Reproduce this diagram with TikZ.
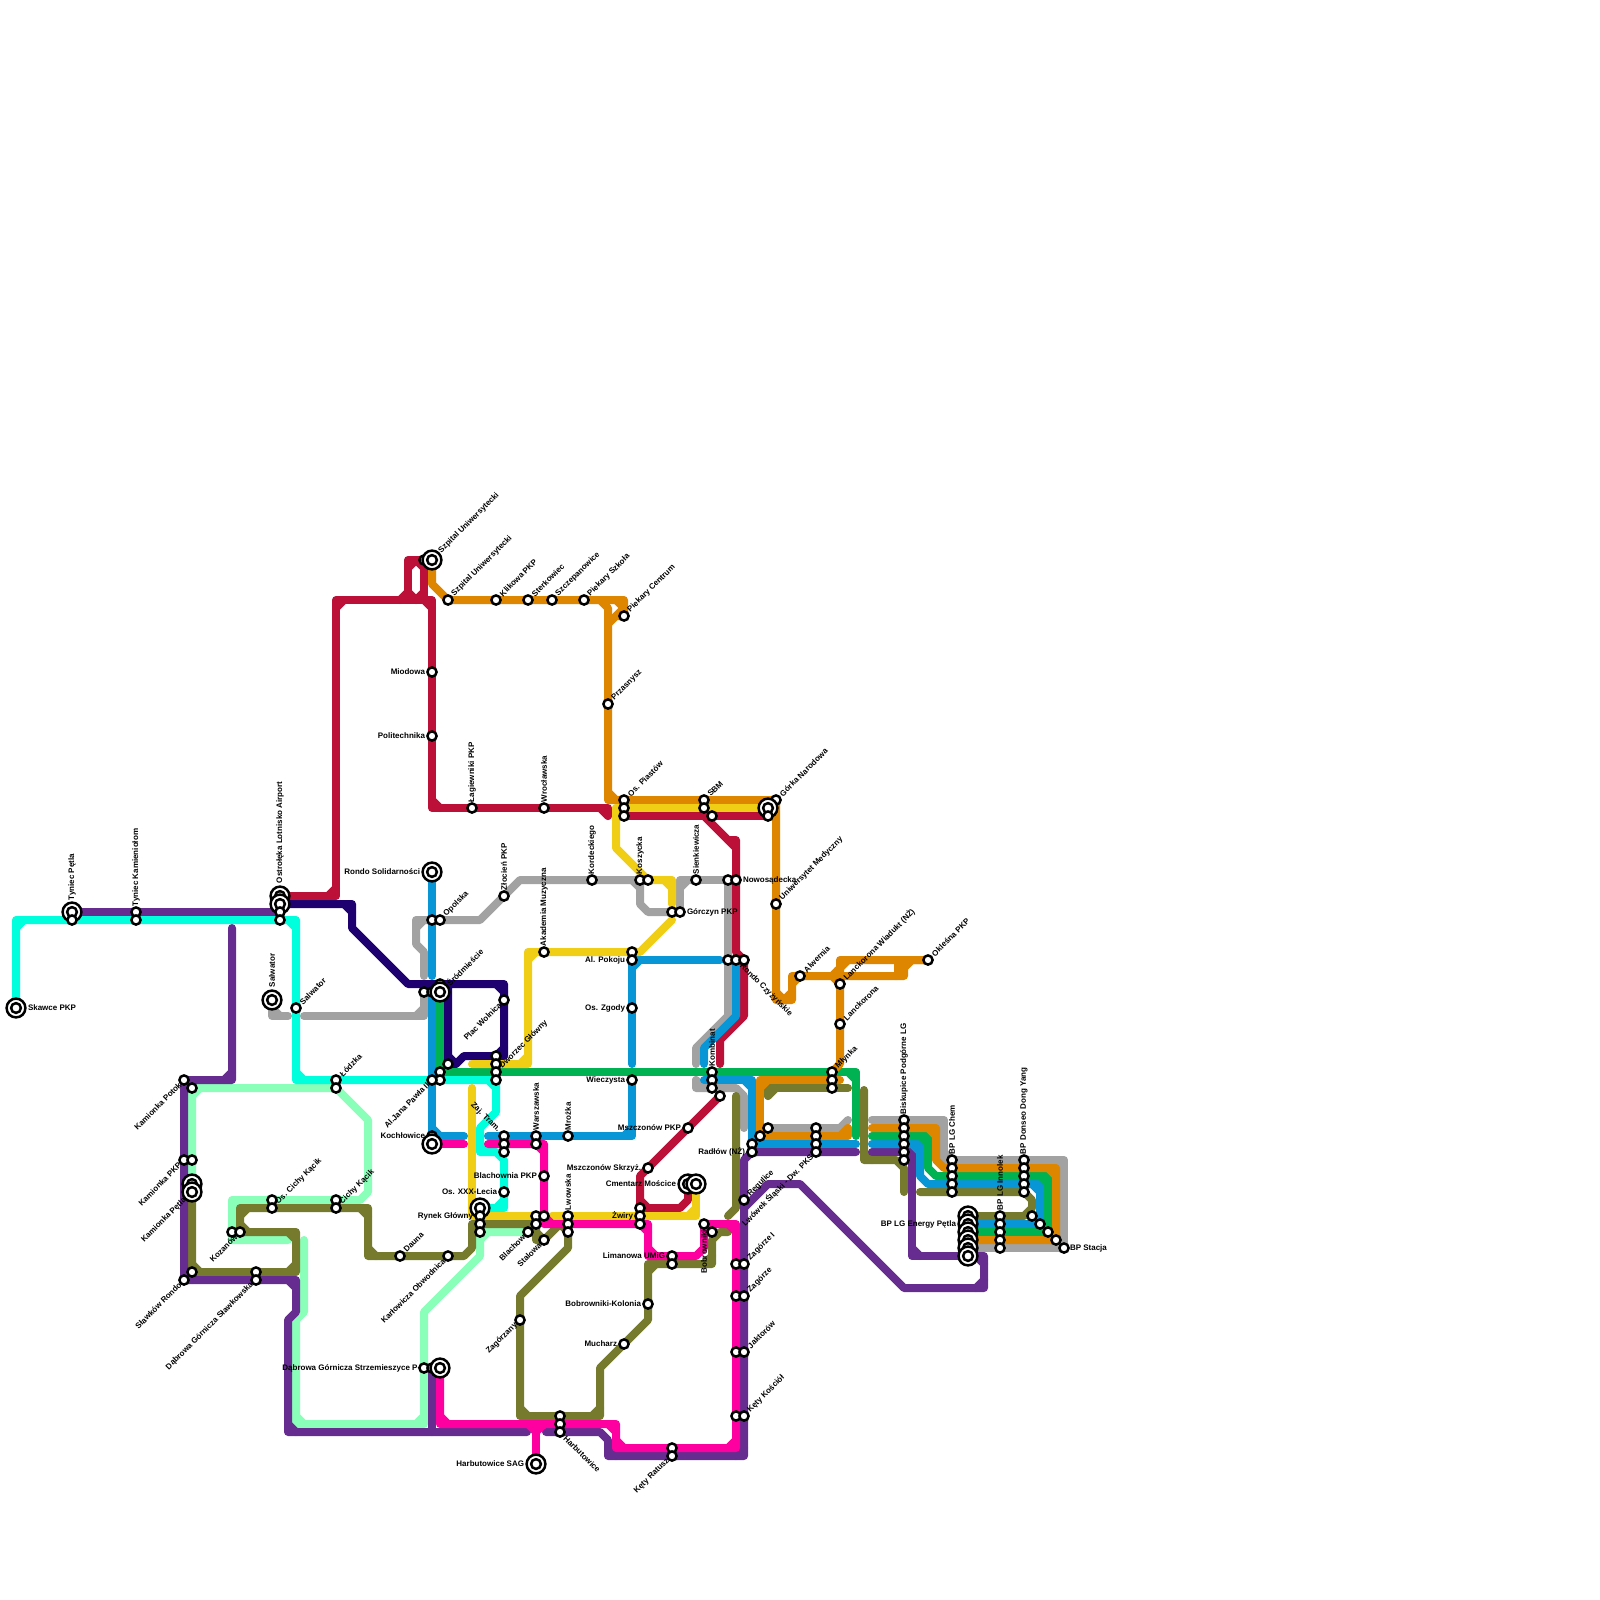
\documentclass[tikz,border=0pt]{standalone}
\usepackage{fontspec}
\setmainfont{Liberation Sans}
\definecolor{cCyan}{HTML}{00FFDD}
\definecolor{cPurple}{HTML}{662C90}
\definecolor{cCrimson}{HTML}{BD1038}
\definecolor{cNavy}{HTML}{1E0070}
\definecolor{cOrange}{HTML}{DF8600}
\definecolor{cYellow}{HTML}{F0CE15}
\definecolor{cBlue}{HTML}{0896D7}
\definecolor{cGreen}{HTML}{00B251}
\definecolor{cOlive}{HTML}{757A2C}
\definecolor{cPink}{HTML}{FF00A0}
\definecolor{cSilver}{HTML}{A2A2A2}
\definecolor{cMint}{HTML}{8AFFB9}
\tikzset{
 mln/.style={line width=4pt,line cap=round,line join=round},
 lb/.style={font=\bfseries\fontsize{4pt}{4.4pt}\selectfont,text=black,inner sep=0pt,outer sep=0pt},
 stn/.style={circle,draw=black,fill=white,line width=1.25pt,inner sep=0pt,minimum size=4.6pt},
 tgo/.style={circle,draw=black,fill=white,line width=1.25pt,inner sep=0pt,minimum size=9.4pt},
 tgi/.style={circle,draw=black,fill=white,line width=1.25pt,inner sep=0pt,minimum size=4.9pt},
}
\newcounter{lc}\newcounter{sc}
% a line through grid points; square bends get the chamfered inner corner
\newcommand{\metro}[2]{%
 \global\let\mypth\empty
 \foreach \cx/\cy [count=\ci] in {#2}{%
  \ifnum\ci=1 \xdef\mypth{(\cx,\cy)}\else\xdef\mypth{\mypth -- (\cx,\cy)}\fi}%
 \draw[mln,draw=#1] \mypth;
 \foreach \cx/\cy [count=\ci] in {#2}{%
  \ifnum\ci>2
   \pgfmathsetmacro\lab{veclen(\ax-\bx,\ay-\by)}%
   \pgfmathsetmacro\lcb{veclen(\cx-\bx,\cy-\by)}%
   \pgfmathsetmacro\dotp{((\ax-\bx)/\lab)*((\cx-\bx)/\lcb)+((\ay-\by)/\lab)*((\cy-\by)/\lcb)}%
   \pgfmathparse{\dotp>-0.1?1:0}%
   \ifnum\pgfmathresult=1
    \pgfmathsetmacro\da{min(8,\lab)/\lab}%
    \pgfmathsetmacro\db{min(8,\lcb)/\lcb}%
    \draw[mln,draw=#1] ({\bx+\da*(\ax-\bx)},{\by+\da*(\ay-\by)}) -- ({\bx+\db*(\cx-\bx)},{\by+\db*(\cy-\by)});
   \fi
  \fi
  \ifnum\ci>1 \xdef\ax{\bx}\xdef\ay{\by}\fi
  \xdef\bx{\cx}\xdef\by{\cy}}%
}
\newcommand{\stations}[1]{\foreach \sx/\sy in {#1}{\stepcounter{sc}\node[stn] (s\arabic{sc}) at (\sx,\sy) {};}}
\newcommand{\tg}[2]{\stepcounter{sc}\node[tgo] (s\arabic{sc}) at (#1,#2) {};\node[tgi] (t\arabic{sc}) at (#1,#2) {};}
\newcommand{\lbnode}[5]{\stepcounter{lc}\node[lb,rotate=#1,anchor=#2] (l\arabic{lc}) at (#3,#4) {#5};}
\newcommand{\lR}[4][7]{\lbnode{0}{west}{{#2+#1}}{#3}{#4}}
\newcommand{\lL}[4][7]{\lbnode{0}{east}{{#2-#1}}{#3}{#4}}
\newcommand{\lU}[4][6]{\lbnode{90}{west}{#2}{{#3-#1}}{#4}}
\newcommand{\lD}[4][6]{\lbnode{90}{east}{#2}{{#3+#1}}{#4}}
\newcommand{\lNE}[4][5]{\lbnode{45}{west}{{#2+#1}}{{#3-#1}}{#4}}
\newcommand{\lSW}[4][4]{\lbnode{45}{east}{{#2-#1}}{{#3+#1}}{#4}}
\newcommand{\lSE}[4][5]{\lbnode{-45}{west}{{#2+#1}}{{#3+#1}}{#4}}
\newcommand{\lNW}[4][5]{\lbnode{-45}{east}{{#2-#1}}{{#3-#1}}{#4}}
\begin{document}
\begin{tikzpicture}[x=0.5pt,y=-0.5pt]
\useasboundingbox (0,0) rectangle (1600,1600);
\fill[white] (0,0) rectangle (1600,1600);
% silver
\metro{cSilver}{272/1000,272/1016,288/1016}
\metro{cSilver}{304/1016,424/1016,424/992}
\metro{cSilver}{424/976,424/952,416/944,416/920,480/920,520/880,640/880,640/904,648/912,672/912}
\metro{cSilver}{728/880,680/880,680/912}
\metro{cSilver}{728/880,728/1016,696/1048,696/1064}
\metro{cSilver}{696/1080,696/1088,736/1088,744/1096,744/1128}
\metro{cSilver}{768/1128,840/1128,848/1120}
\metro{cSilver}{872/1120,944/1120,944/1160,1064/1160,1064/1248,968/1248}
% crimson
\metro{cCrimson}{280/896,336/896,336/600,408/600,408/560,424/560,424/600,408/600,408/590}
\metro{cCrimson}{416/600,432/600,432/808,608/808,608/816}
\metro{cCrimson}{624/816,768/816}
\metro{cCrimson}{704/816,728/840,736/840,736/952,744/960,744/1016,720/1040,720/1064}
\metro{cCrimson}{720/1096,640/1176,640/1208,680/1208,688/1200,688/1184}
% mint
\metro{cMint}{192/1184,192/1088,336/1088,368/1120,368/1192,360/1200,232/1200,232/1240,288/1240}
\metro{cMint}{304/1240,304/1312,296/1320,296/1424,424/1424,424/1312,480/1256,480/1232,528/1232}
% olive
\metro{cOlive}{192/1192,192/1272,296/1272,296/1232,240/1232,240/1208,368/1208,368/1256,464/1256,472/1248,472/1224,536/1224,536/1240,544/1240,560/1224,568/1224,568/1248,520/1296,520/1416,600/1416,600/1368,648/1320,648/1264,712/1264,712/1240,720/1232,728/1232}
\metro{cOlive}{736/1096,736/1208,728/1216}
\metro{cOlive}{848/1088,768/1088,768/1096}
\metro{cOlive}{864/1090,864/1160,896/1160,904/1168,904/1192}
\metro{cOlive}{920/1192,1024/1192,1032/1200,1032/1208,1024/1216,968/1216}
% purple
\metro{cPurple}{72/912,280/912}
\metro{cPurple}{232/928,232/1080,184/1080,184/1280,296/1280,296/1312,288/1320,288/1432,527/1432}
\metro{cPurple}{432/1368,432/1432}
\metro{cPurple}{546/1432,600/1432,608/1440,608/1456,744/1456,744/1160,752/1152,856/1152}
\metro{cPurple}{744/1208,768/1184,800/1184,904/1288,984/1288,984/1256,968/1256}
\metro{cPurple}{872/1152,912/1152,912/1256,968/1256}
% navy
\metro{cNavy}{280/904,352/904,352/928,408/984,504/984,504/1056,464/1056,456/1064,448/1064,448/984}
% cyan
\metro{cCyan}{16/1008,16/920,296/920,296/1080,496/1080,496/1112,480/1128,480/1152,496/1152,504/1160,504/1208,480/1208}
% blue
\metro{cBlue}{432/872,432/976}
\metro{cBlue}{432/992,432/1136,464/1136}
\metro{cBlue}{488/1136,632/1136,632/1080}
\metro{cBlue}{720/960,632/960,632/1064}
\metro{cBlue}{736/960,736/1016,704/1048,704/1064}
\metro{cBlue}{704/1080,752/1080,752/1144,856/1144}
\metro{cBlue}{872/1144,920/1144,920/1176,928/1184,1040/1184,1040/1224,968/1224}
% green
\metro{cGreen}{440/992,440/1072,856/1072,856/1136}
\metro{cGreen}{872/1136,928/1136,928/1168,936/1176,1048/1176,1048/1232,968/1232}
% orange
\metro{cOrange}{432/560,432/584,448/600,624/600,624/616,616/616,608/624,608/800,776/800,776/1000,792/1000,792/976,904/976,904/968,912/960,928/960}
\metro{cOrange}{600/600,608/608,608/624}
\metro{cOrange}{928/960,840/960,840/1064,832/1072}
\metro{cOrange}{848/960,832/976,840/984}
\metro{cOrange}{896/960,904/968,896/976}
\metro{cOrange}{840/1080,760/1080,760/1136,848/1136,848/1128}
\metro{cOrange}{872/1128,936/1128,936/1160,944/1168,1056/1168,1056/1240,968/1240}
% yellow
\metro{cYellow}{616/808,768/808}
\metro{cYellow}{616/808,616/848,648/880,672/880,672/904}
\metro{cYellow}{672/920,640/952,528/952,528/1064,472/1064}
\metro{cYellow}{472/1088,472/1216,536/1216}
\metro{cYellow}{552/1216,696/1216,696/1184}
% pink
\metro{cPink}{440/1144,464/1144}
\metro{cPink}{440/1368,440/1424,616/1424,616/1448,736/1448,736/1224,704/1224,704/1248,696/1256,648/1256,648/1224,544/1224,544/1144,488/1144}
\metro{cPink}{536/1464,536/1424}
\metro{cPink}{528/1424,536/1432,544/1424}
% labels
\lR[12]{16}{1008}{Skawce PKP}
\lU[12]{72}{912}{Tyniec Pętla}
\lU{136}{912}{Tyniec Kamieniołom}
\lU[13]{280}{896}{Ostrołęka Lotnisko Airport}
\lU[13]{272}{1000}{Salwator}
\lNE{296}{1008}{Salwator}
\lNE{336}{1080}{Łódzka}
\lSW{184}{1080}{Kamionka Potok}
\lSW{184}{1160}{Kamionka PKP}
\lSW[7]{192}{1192}{Kamionka Pętla}
\lSW{184}{1280}{Sławków Rondo}
\lSW{256}{1280}{Dąbrowa Górnicza Sławkowska}
\lSW{240}{1232}{Kozanów}
\lNE{272}{1208}{Os. Cichy Kącik}
\lNE{336}{1208}{Cichy Kącik}
\lNE{400}{1256}{Dauna}
\lSW{448}{1256}{Karłowicza Obwodnica}
\lL[12]{440}{1368}{Dąbrowa Górnicza Strzemieszyce P+R}
\lL[12]{432}{872}{Rondo Solidarności}
\lNE{440}{920}{Opolska}
\lNE[8]{440}{992}{Śródmieście}
\lSW{504}{1000}{Plac Wolnica}
\lNE{496}{1072}{Dworzec Główny}
\lSW{432}{1080}{Al.Jana Pawła II}
\lL{432}{1136}{Kochłowice}
\lNW{504}{1136}{Zaj. Tram.}
\lU{536}{1136}{Warszawska}
\lU{568}{1136}{Mrożka}
\lL{544}{1176}{Blachownia PKP}
\lL{504}{1192}{Os. XXX-Lecia}
\lL{480}{1216}{Rynek Główny}
\lSW{536}{1224}{Blachownia}
\lSW{544}{1240}{Stalowa}
\lU{568}{1216}{Lwowska}
\lSW{520}{1320}{Zagórzany}
\lL[12]{536}{1464}{Harbutowice SAG}
\lSE{560}{1432}{Harbutowice}
\lL{648}{1304}{Bobrowniki-Kolonia}
\lL{624}{1344}{Mucharz}
\lL{672}{1256}{Limanowa UMiG}
\lSW{672}{1456}{Kęty Ratusz}
\lD{704}{1224}{Bobrowniki}
\lL{640}{1216}{Żwiry}
\lL[12]{688}{1184}{Cmentarz Mościce}
\lL{648}{1168}{Mszczonów Skrzyż.}
\lL{688}{1128}{Mszczonów PKP}
\lL{632}{1080}{Wieczysta}
\lL{632}{1008}{Os. Zgody}
\lL{632}{960}{Al. Pokoju}
\lL{432}{672}{Miodowa}
\lL{432}{736}{Politechnika}
\lNE[8]{432}{560}{Szpital Uniwersytecki}
\lNE{448}{600}{Szpital Uniwersytecki}
\lNE{496}{600}{Klikowa PKP}
\lNE{528}{600}{Sterkowiec}
\lNE{552}{600}{Szczepanowice}
\lNE{584}{600}{Piekary Szkoła}
\lNE{624}{616}{Piekary Centrum}
\lNE{608}{704}{Przasnysz}
\lU{472}{808}{Łagiewniki PKP}
\lU{544}{808}{Wrocławska}
\lNE{624}{800}{Os. Piastów}
\lNE{704}{800}{SBM}
\lNE{776}{800}{Górka Narodowa}
\lU{504}{896}{Złocień PKP}
\lU{544}{952}{Akademia Muzyczna}
\lU{592}{880}{Kordeckiego}
\lU{640}{880}{Koszycka}
\lU{696}{880}{Sienkiewicza}
\lR{736}{880}{Nowosądecka}
\lR{680}{912}{Górczyn PKP}
\lNE{776}{904}{Uniwersytet Medyczny}
\lSE{736}{960}{Rondo Czyżyńskie}
\lNE{800}{976}{Alwernia}
\lNE{840}{984}{Lanckorona Wiadukt (NŻ)}
\lNE{840}{1024}{Lanckorona}
\lNE{928}{960}{Okleśna PKP}
\lNE{832}{1072}{Młynka}
\lU{712}{1072}{Kombinat}
\lL{752}{1152}{Radłów (NŻ)}
\lNE{744}{1200}{Regulice}
\lSW{816}{1152}{Lwówek Śląski - Dw. PKS}
\lNE{744}{1264}{Zagórze I}
\lNE{744}{1296}{Zagórze}
\lNE{744}{1352}{Jaktorów}
\lNE{744}{1416}{Kęty Kościół}
\lU{904}{1120}{Biskupice Podgórne LG}
\lU{952}{1160}{BP LG Chem}
\lU{1024}{1160}{BP Donseo Dong Yang}
\lU{1000}{1216}{BP LG Innolek}
\lL[12]{968}{1224}{BP LG Energy Pętla}
\lR[6]{1064}{1248}{BP Stacja}
% stations
\tg{16}{1008}
\tg{72}{912}
\stations{72/920,136/912,136/920}
\tg{280}{896}
\tg{280}{904}
\stations{280/912,280/920}
\tg{272}{1000}
\stations{296/1008,336/1080,336/1088,184/1080,192/1088,184/1160,192/1160}
\tg{192}{1184}
\tg{192}{1192}
\stations{192/1272,184/1280,256/1272,256/1280,232/1232,240/1232,272/1200,272/1208,336/1200,336/1208,400/1256,448/1256,424/1368,432/1368}
\tg{440}{1368}
\tg{432}{872}
\stations{432/920,440/920,424/992,432/992,440/984}
\tg{440}{992}
\stations{448/1064,440/1072,440/1080,432/1080,432/1136}
\tg{432}{1144}
\stations{424/560}
\tg{432}{560}
\stations{448/600,496/600,528/600,552/600,584/600,624/616,608/704,432/672,432/736,472/808,544/808,624/800,624/808,624/816,704/800,704/808,712/816,776/800}
\tg{768}{808}
\stations{768/816,504/896,544/952,592/880,640/880,648/880,696/880,728/880,736/880,672/912,680/912,632/952,632/960,632/1008,728/960,736/960,744/960,776/904,800/976,840/984,840/1024,928/960}
\stations{504/1000,496/1056,496/1064,496/1072,496/1080,632/1080,712/1072,712/1080,712/1088,720/1096,832/1072,832/1080,832/1088}
\stations{504/1136,504/1144,504/1152,536/1136,536/1144,568/1136,544/1176,504/1192}
\tg{480}{1208}
\stations{480/1216,480/1224,480/1232,528/1232,536/1216,536/1224,544/1216,544/1240,568/1216,568/1224,568/1232,520/1320,640/1208,640/1216,640/1224,648/1168,688/1128}
\tg{688}{1184}
\tg{696}{1184}
\stations{704/1224,712/1232,672/1256,672/1264,648/1304,624/1344,560/1416,560/1424,560/1432,672/1448,672/1456}
\tg{536}{1464}
\stations{736/1264,744/1264,736/1296,744/1296,736/1352,744/1352,736/1416,744/1416,744/1200,752/1144,752/1152,760/1136,768/1128,816/1128,816/1136,816/1144,816/1152}
\stations{904/1120,904/1128,904/1136,904/1144,904/1152,904/1160,952/1160,952/1168,952/1176,952/1184,952/1192,1024/1160,1024/1168,1024/1176,1024/1184,1024/1192}
\tg{968}{1216}
\tg{968}{1224}
\tg{968}{1232}
\tg{968}{1240}
\tg{968}{1248}
\tg{968}{1256}
\stations{1000/1216,1000/1224,1000/1232,1000/1240,1000/1248,1032/1216,1040/1224,1048/1232,1056/1240,1064/1248}
\end{tikzpicture}
\end{document}
